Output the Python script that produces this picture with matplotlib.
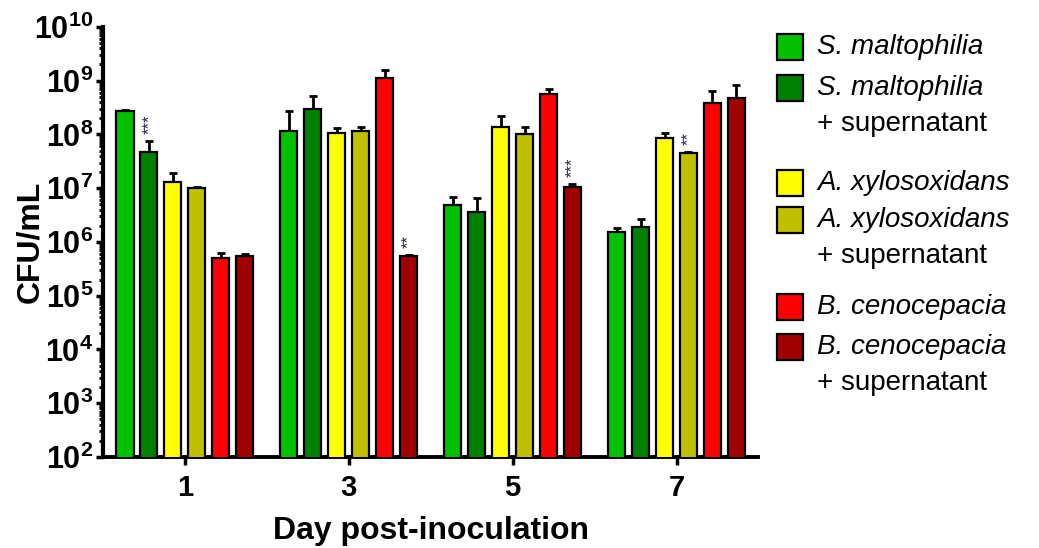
import matplotlib
matplotlib.use('Agg')
import matplotlib.pyplot as plt
from matplotlib.patches import Rectangle
from matplotlib.ticker import LogLocator, FuncFormatter, NullFormatter
import numpy as np

plt.rcParams['font.family'] = ['Liberation Sans', 'DejaVu Sans']
plt.rcParams['mathtext.fontset'] = 'custom'
plt.rcParams['mathtext.rm'] = 'Liberation Sans'
plt.rcParams['mathtext.bf'] = 'Liberation Sans:bold'
plt.rcParams['mathtext.it'] = 'Liberation Sans:italic'

days = ['1', '3', '5', '7']

# mean CFU/mL and top of the (upper-only) error bar, one list per group
sm = [2.7e8, 1.17e8, 4.9e6, 1.55e6]
sm_top = [2.9e8, 2.7e8, 6.9e6, 1.8e6]
sm_sup = [4.8e7, 2.95e8, 3.6e6, 1.9e6]
sm_sup_top = [7.7e7, 5.1e8, 6.6e6, 2.7e6]
ax_ = [1.3e7, 1.05e8, 1.4e8, 8.7e7]
ax_top = [1.95e7, 1.3e8, 2.2e8, 1.05e8]
ax_sup = [1.02e7, 1.14e8, 1.0e8, 4.6e7]
ax_sup_top = [1.07e7, 1.4e8, 1.35e8, 4.8e7]
bc = [5.0e5, 1.12e9, 5.6e8, 3.8e8]
bc_top = [6.2e5, 1.6e9, 6.9e8, 6.3e8]
bc_sup = [5.5e5, 5.5e5, 1.07e7, 4.7e8]
bc_sup_top = [6.0e5, 5.8e5, 1.2e7, 8.3e8]

names = ['S. maltophilia', 'S. maltophilia', 'A. xylosoxidans',
         'A. xylosoxidans', 'B. cenocepacia', 'B. cenocepacia']
with_sup = [False, True, False, True, False, True]
colors = ['#00C000', '#008000', '#FFFF00', '#C0C000', '#FF0000', '#A00000']
means = [sm, sm_sup, ax_, ax_sup, bc, bc_sup]
tops = [sm_top, sm_sup_top, ax_top, ax_sup_top, bc_top, bc_sup_top]

# significance marks: (series index, day index, text)
stars = [(1, 0, '***'), (5, 1, '**'), (5, 2, '***'), (3, 3, '**')]

fig = plt.figure(figsize=(10.39, 5.48), dpi=100)
ax = fig.add_axes([0.099, 0.166, 0.631, 0.785])

x = np.arange(len(days))
step = 0.146
width = 0.104
for i in range(6):
    pos = x + (i - 2.5) * step
    m = np.array(means[i])
    t = np.array(tops[i])
    ax.bar(pos, m, width, bottom=1, color=colors[i], edgecolor='black',
           linewidth=1.6, zorder=3)
    ax.errorbar(pos, m, yerr=[np.zeros_like(m), t - m], fmt='none',
                ecolor='black', elinewidth=2, capsize=3, capthick=2, zorder=2)

for si, di, s in stars:
    pos = x[di] + (si - 2.5) * step
    ax.annotate(s, (pos, tops[si][di]), xytext=(0, 5), textcoords='offset points',
                rotation=90, ha='center', va='bottom', fontsize=12,
                color='#202840')

ax.set_yscale('log')
ax.set_ylim(1e2, 1e10)
ax.set_xlim(-0.5, 3.5)
ax.yaxis.set_major_locator(LogLocator(base=10, numticks=20))
ax.yaxis.set_minor_locator(LogLocator(base=10, subs=np.arange(2, 10), numticks=20))
ax.yaxis.set_major_formatter(FuncFormatter(
    lambda v, p: r'$\mathbf{10^{%d}}$' % round(np.log10(v))))
ax.yaxis.set_minor_formatter(NullFormatter())
ax.set_xticks(x)
ax.set_xticklabels(days, fontsize=21, fontweight='bold')
ax.tick_params(axis='y', which='major', labelsize=22, width=2.5, length=5, pad=2)
ax.tick_params(axis='y', which='minor', width=2, length=3)
ax.tick_params(axis='x', width=2.5, length=6, pad=6)

for side in ['top', 'right']:
    ax.spines[side].set_visible(False)
ax.spines['left'].set_linewidth(3)
ax.spines['bottom'].set_linewidth(2.8)

ax.set_ylabel('CFU/mL', fontsize=23, fontweight='bold')
ax.yaxis.set_label_coords(-0.088, 0.5)
ax.set_xlabel('Day post-inoculation', fontsize=23, fontweight='bold', labelpad=10)

# legend drawn by hand: italic species name, plain "+ supernatant" line
W, H = 1039.0, 548.0
leg_y = [47, 88, 183, 220, 307, 347]
for i in range(6):
    yc = leg_y[i]
    fig.patches.append(Rectangle(((777) / W, 1 - (yc + 13) / H), 26 / W, 26 / H,
                                 transform=fig.transFigure, facecolor=colors[i],
                                 edgecolor='black', linewidth=1.6))
    fig.text(817 / W, 1 - yc / H, names[i], fontsize=20, style='italic',
             va='center', ha='left')
    if with_sup[i]:
        fig.text(817 / W, 1 - (yc + 36) / H, '+ supernatant', fontsize=20,
                 va='center', ha='left')

fig.savefig('out.png', dpi=100)
